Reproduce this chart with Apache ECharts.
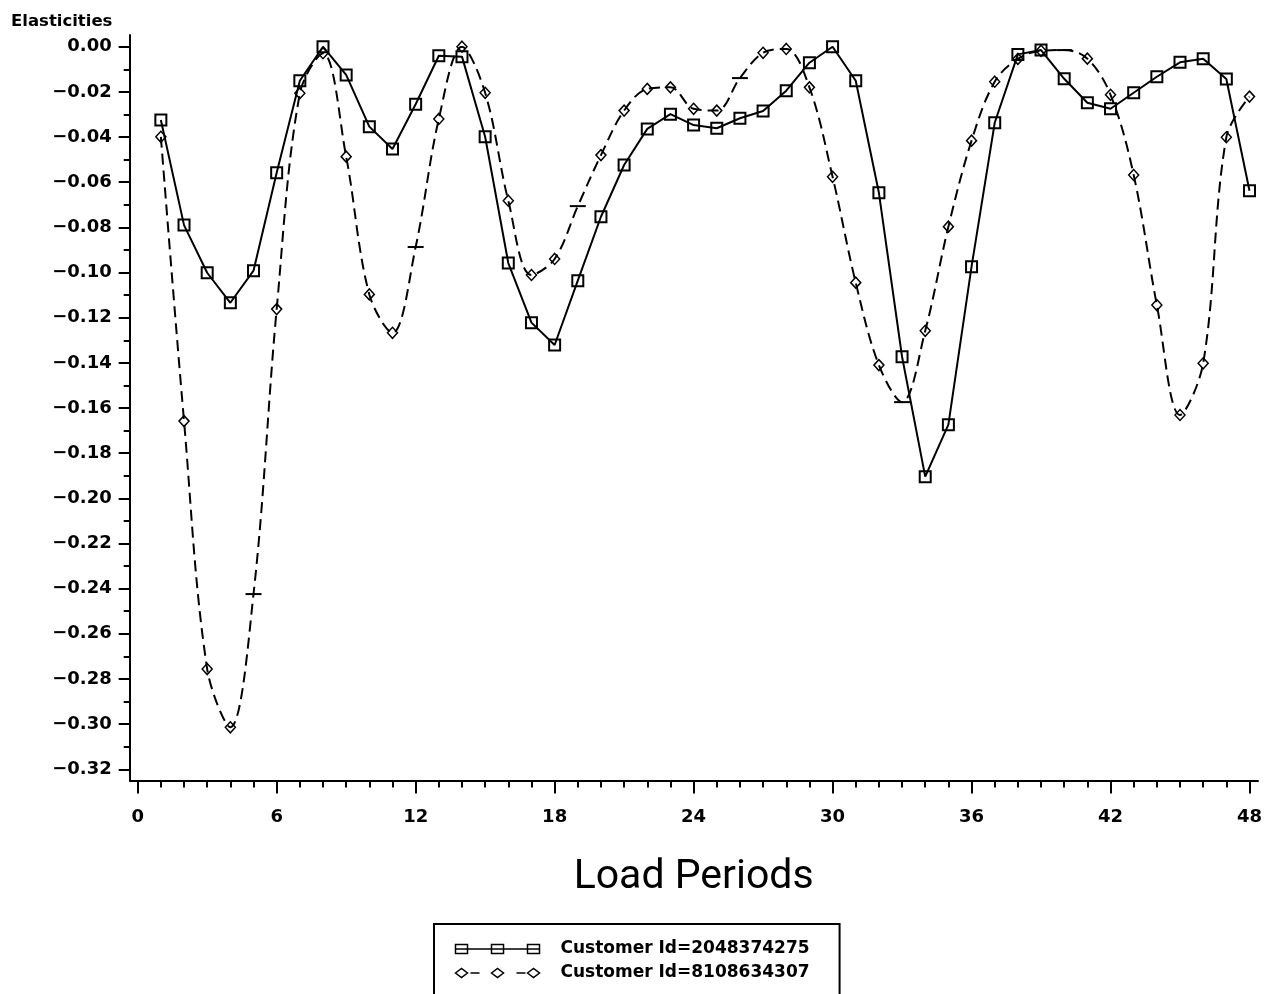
<!DOCTYPE html>
<html>
<head>
<meta charset="utf-8">
<title>Elasticities</title>
<script src="https://cdn.jsdelivr.net/npm/echarts@6/dist/echarts.min.js"></script>
<style>
  html, body { margin: 0; padding: 0; background: #fff; }
  #chart { width: 1266px; height: 994px; }
</style>
</head>
<body>
<div id="chart"></div>
<script>
// load periods on the x axis
const periods = [1, 2, 3, 4, 5, 6, 7, 8, 9, 10, 11, 12, 13, 14, 15, 16,
  17, 18, 19, 20, 21, 22, 23, 24, 25, 26, 27, 28, 29, 30, 31, 32,
  33, 34, 35, 36, 37, 38, 39, 40, 41, 42, 43, 44, 45, 46, 47, 48];

const seriesNames = ['Customer Id=2048374275', 'Customer Id=8108634307'];

// Customer 2048374275 (solid, squares)
const custA = [-0.0325, -0.0790, -0.1001, -0.1134, -0.0992, -0.0558, -0.0151, 0.0000,
  -0.0125, -0.0354, -0.0453, -0.0255, -0.0040, -0.0044, -0.0399, -0.0958,
  -0.1222, -0.1321, -0.1036, -0.0753, -0.0524, -0.0364, -0.0299, -0.0347,
  -0.0361, -0.0317, -0.0285, -0.0195, -0.0071, 0.0000, -0.0151, -0.0647,
  -0.1373, -0.1904, -0.1674, -0.0974, -0.0337, -0.0034, -0.0015, -0.0142,
  -0.0248, -0.0275, -0.0204, -0.0133, -0.0069, -0.0053, -0.0143, -0.0638];

// Customer 8108634307 (dashed spline, diamonds)
const custB = [-0.0399, -0.1658, -0.2756, -0.3014, -0.2424, -0.1162, -0.0206, -0.0029,
  -0.0487, -0.1097, -0.1267, -0.0887, -0.0320, 0.0000, -0.0204, -0.0682,
  -0.1011, -0.0940, -0.0706, -0.0480, -0.0283, -0.0187, -0.0180, -0.0275,
  -0.0283, -0.0139, -0.0027, -0.0010, -0.0180, -0.0576, -0.1045, -0.1410,
  -0.1574, -0.1258, -0.0797, -0.0416, -0.0155, -0.0054, -0.0018, -0.0015,
  -0.0053, -0.0213, -0.0568, -0.1144, -0.1631, -0.1402, -0.0401, -0.0221];

// periods where the second series shows a flat bar instead of a diamond
const barPeriods = [5, 12, 19, 26, 33, 40];

const yTicks = { min: -0.32, max: 0, step: 0.02 };
const xTicks = { min: 0, max: 48, step: 6 };

const chart = echarts.init(document.getElementById('chart'), null, { renderer: 'canvas' });

const labelFont = {
  fontFamily: 'DejaVu Sans',
  fontWeight: 'bold',
  fontSize: 18,
  color: '#000'
};

const fmtY = (v) => {
  const s = Math.abs(v) < 1e-9 ? '0.00' : v.toFixed(2);
  return s.replace('-', '\u2212');
};

const dataA = periods.map((p, i) => [p, custA[i]]);
const dataB = periods.map((p, i) => {
  if (barPeriods.indexOf(p) >= 0) {
    return {
      value: [p, custB[i]],
      symbol: 'rect',
      symbolSize: [16, 2],
      itemStyle: { color: '#000', borderWidth: 0 }
    };
  }
  return [p, custB[i]];
});

const option = {
  animation: false,
  backgroundColor: '#fff',
  title: {
    text: 'Elasticities',
    left: 11,
    top: 13,
    padding: 0,
    textStyle: {
      fontFamily: 'DejaVu Sans',
      fontWeight: 'bold',
      fontSize: 16.5,
      color: '#000'
    }
  },
  legend: {
    orient: 'vertical',
    left: 434,
    top: 924,
    height: 150,
    padding: [15, 30, 40, 19],
    itemGap: 4,
    itemWidth: 100,
    itemHeight: 10,
    borderColor: '#000',
    borderWidth: 2,
    selectedMode: false,
    itemStyle: { color: 'none', borderColor: '#000', borderWidth: 1.5 },
    textStyle: {
      fontFamily: 'DejaVu Sans',
      fontWeight: 'bold',
      fontSize: 17,
      lineHeight: 20,
      color: '#000'
    },
    data: [
      {
        name: seriesNames[0],
        icon: 'path://M0,5H84M0,0.5H12V9.5H0ZM36,0.5H48V9.5H36ZM72,0.5H84V9.5H72ZM100,0M100,10'
      },
      {
        name: seriesNames[1],
        icon: 'path://M0,5L6,0.5L12,5L6,9.5ZM36,5L42,0.5L48,5L42,9.5ZM72,5L78,0.5L84,5L78,9.5ZM15,5H24M61,5H70M100,0M100,10'
      }
    ]
  },
  grid: [
    // outer frame: only the axis lines
    { left: 130, right: 8, top: 35, bottom: 213.5 },
    // plotting area
    { left: 137.7, right: 16.5, top: 46.7, bottom: 224.7 }
  ],
  xAxis: [
    {
      gridIndex: 0, type: 'value', min: 0, max: 1, position: 'bottom',
      axisLine: { onZero: false, lineStyle: { color: '#000', width: 2 } },
      axisTick: { show: false }, axisLabel: { show: false }, splitLine: { show: false }
    },
    {
      gridIndex: 1, type: 'value', position: 'bottom',
      min: xTicks.min, max: xTicks.max, interval: xTicks.step,
      offset: 11.2,
      axisLine: { show: false, onZero: false },
      axisTick: { length: 13, lineStyle: { color: '#000', width: 2 } },
      minorTick: { show: true, splitNumber: 6, length: 7, lineStyle: { color: '#000', width: 2 } },
      splitLine: { show: false },
      axisLabel: Object.assign({ margin: 28 }, labelFont),
      name: 'Load Periods',
      nameLocation: 'middle',
      nameGap: 77,
      nameTextStyle: { fontFamily: 'Roboto', fontSize: 41, color: '#000' }
    }
  ],
  yAxis: [
    {
      gridIndex: 0, type: 'value', min: 0, max: 1, position: 'left',
      axisLine: { show: true, onZero: false, lineStyle: { color: '#000', width: 2 } },
      axisTick: { show: false }, axisLabel: { show: false }, splitLine: { show: false }
    },
    {
      gridIndex: 1, type: 'value', position: 'left',
      min: yTicks.min, max: yTicks.max, interval: yTicks.step,
      offset: 8,
      axisLine: { show: false, onZero: false },
      axisTick: { length: 11, lineStyle: { color: '#000', width: 2 } },
      minorTick: { show: true, splitNumber: 2, length: 6, lineStyle: { color: '#000', width: 2 } },
      splitLine: { show: false },
      axisLabel: Object.assign({ margin: 18, formatter: fmtY }, labelFont)
    }
  ],
  series: [
    {
      name: seriesNames[0],
      type: 'line',
      xAxisIndex: 1,
      yAxisIndex: 1,
      data: dataA,
      symbol: 'rect',
      symbolSize: 11,
      itemStyle: { color: 'rgba(0,0,0,0)', borderColor: '#000', borderWidth: 2 },
      lineStyle: { color: '#000', width: 2 }
    },
    {
      name: seriesNames[1],
      type: 'line',
      xAxisIndex: 1,
      yAxisIndex: 1,
      data: dataB,
      smooth: 0.35,
      symbol: 'diamond',
      symbolSize: [10, 11],
      itemStyle: { color: 'rgba(0,0,0,0)', borderColor: '#000', borderWidth: 1.5 },
      lineStyle: { color: '#000', width: 2, type: [11, 6] }
    }
  ]
};

chart.setOption(option);

window.addEventListener('resize', () => {
  chart.resize();
});
</script>
</body>
</html>
